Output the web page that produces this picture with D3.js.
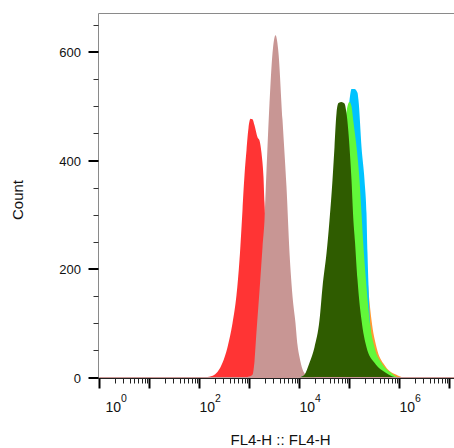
<!DOCTYPE html>
<html><head><meta charset="utf-8">
<script src="https://cdn.jsdelivr.net/npm/d3@7"></script>
<style>html,body{margin:0;padding:0;background:#fff;}svg{display:block;}</style>
</head><body>
<svg id="c" width="454" height="448"></svg>
<script>
// ---- data (x given as log10 of FL4-H intensity, y as count) ----
const redLog   = [0, 2.0, 2.16, 2.30, 2.46, 2.56, 2.66, 2.74, 2.80, 2.86, 2.90, 2.94, 2.98, 3.02, 3.06, 3.10, 3.16, 3.20, 3.24, 3.28, 3.30, 3.36, 3.44, 3.52, 3.64, 3.80, 4.0];
const redCount = [0, 0, 1, 5, 27, 56, 100, 152, 217, 309, 373, 419, 460, 477, 476, 465, 443, 437, 414, 369, 322, 217, 106, 41, 10, 1, 0];

const brownLog   = [0, 2.9, 2.96, 3.06, 3.10, 3.14, 3.20, 3.26, 3.30, 3.34, 3.40, 3.46, 3.52, 3.58, 3.66, 3.74, 3.80, 3.86, 3.92, 3.96, 4.00, 4.06, 4.12, 4.18, 4.3, 7.2];
const brownCount = [0, 0, 1, 5, 30, 85, 160, 240, 290, 382, 506, 598, 631, 598, 475, 351, 230, 150, 100, 60, 38, 15, 5, 1, 0, 0];

const orangeLog   = [4.0, 4.3, 4.5, 4.7, 4.9, 5.0, 5.08, 5.16, 5.24, 5.30, 5.36, 5.40, 5.44, 5.54, 5.70, 5.80, 5.94, 6.04, 6.15];
const orangeCount = [0, 10, 50, 180, 380, 470, 500, 460, 380, 290, 185, 140, 106, 56, 23, 12, 5, 1, 0];

const cyanLog   = [4.0, 4.3, 4.6, 4.8, 4.9, 5.0, 5.04, 5.10, 5.16, 5.18, 5.24, 5.30, 5.34, 5.36, 5.38, 5.40, 5.44, 5.50, 5.60, 5.75, 5.9];
const cyanCount = [0, 15, 120, 300, 420, 511, 532, 532, 525, 511, 425, 364, 303, 229, 170, 120, 70, 35, 12, 3, 0];

const limeLog   = [4.0, 4.2, 4.4, 4.6, 4.7, 4.8, 4.9, 4.96, 5.00, 5.04, 5.08, 5.14, 5.20, 5.24, 5.28, 5.34, 5.40, 5.50, 5.64, 5.84, 5.96, 6.1];
const limeCount = [0, 10, 50, 150, 250, 360, 460, 500, 508, 500, 470, 425, 364, 303, 240, 167, 106, 56, 27, 8, 1, 0];

const dkgreenLog   = [4.0, 4.10, 4.20, 4.30, 4.40, 4.46, 4.54, 4.60, 4.66, 4.70, 4.74, 4.78, 4.84, 4.90, 4.94, 5.00, 5.04, 5.07, 5.11, 5.16, 5.24, 5.34, 5.50, 5.74, 5.90, 6.0];
const dkgreenCount = [0, 5, 27, 56, 106, 167, 229, 290, 364, 425, 487, 506, 508, 505, 487, 425, 364, 303, 250, 180, 106, 56, 27, 8, 1, 0];

const yMajorTicks = [0, 200, 400, 600];
const decadeExps = [0, 1, 2, 3, 4, 5, 6, 7];
const decadeLabelExps = [0, 2, 4, 6];
const xTitle = "FL4-H :: FL4-H";
const yTitle = "Count";

// ---- drawing ----
const svg = d3.select("#c");
const FONT = "'Liberation Sans', Arial, Helvetica, sans-serif";
const x = d3.scaleLog().domain([1, Math.pow(10, 7.2)]).range([99.5, 459.5]);
const y = d3.scaleLinear().domain([0, 672]).range([377.5, 13]);

const series = [
  {log: redLog, cnt: redCount, color: "#ff3434"},
  {log: brownLog, cnt: brownCount, color: "#c89694"},
  {log: orangeLog, cnt: orangeCount, color: "#ff9a33"},
  {log: cyanLog, cnt: cyanCount, color: "#00c3ff"},
  {log: limeLog, cnt: limeCount, color: "#62f83a"},
  {log: dkgreenLog, cnt: dkgreenCount, color: "#2f5c00"}
];

const area = d3.area()
  .x(d => x(Math.pow(10, d[0])))
  .y0(y(0)).y1(d => y(d[1]))
  .curve(d3.curveMonotoneX);
const line = d3.line()
  .x(d => x(Math.pow(10, d[0])))
  .y(d => y(d[1]))
  .curve(d3.curveMonotoneX);

const gPlot = svg.append("g");
series.forEach(s => {
  const pts = s.log.map((l, i) => [l, s.cnt[i]]);
  gPlot.append("path").attr("d", area(pts)).attr("fill", s.color).attr("stroke", "none");
});
// brown baseline
{
  const pts = brownLog.map((l, i) => [l, brownCount[i]]);
  gPlot.append("path").attr("d", line([pts[0], pts[1]]) ).attr("fill", "none").attr("stroke", "#c89694").attr("stroke-width", 1.2);
  gPlot.append("path").attr("d", line([pts[pts.length-2], pts[pts.length-1]]) ).attr("fill", "none").attr("stroke", "#c89694").attr("stroke-width", 1.2);
  gPlot.append("path").attr("d", line([[redLog[0],0],[brownLog[brownLog.length-1],0]])).attr("fill","none").attr("stroke","#c89694").attr("stroke-width",1).attr("opacity",0.8);
}

// frame: left axis line and top border
const xL = 98.5, yTop = 13.5;
svg.append("line").attr("x1", xL).attr("x2", xL).attr("y1", yTop).attr("y2", 379).attr("stroke", "#8a8a8a").attr("stroke-width", 1);
svg.append("line").attr("x1", xL).attr("x2", 454).attr("y1", yTop).attr("y2", yTop).attr("stroke", "#8a8a8a").attr("stroke-width", 1);

// y ticks
const yMinor = d3.range(50, 672, 50).filter(v => v % 200 !== 0);
yMinor.forEach(v => {
  svg.append("line").attr("x1", xL - 5).attr("x2", xL).attr("y1", Math.round(y(v)) + 0.5).attr("y2", Math.round(y(v)) + 0.5)
    .attr("stroke", "#333").attr("stroke-width", 1);
});
yMajorTicks.forEach(v => {
  const yy = Math.round(y(v));
  svg.append("line").attr("x1", xL - 10).attr("x2", xL).attr("y1", yy).attr("y2", yy)
    .attr("stroke", "#000").attr("stroke-width", 2);
  svg.append("text").attr("x", 81).attr("y", yy + 4.5).attr("text-anchor", "end")
    .attr("font-family", FONT).attr("font-size", 13).attr("fill", "#111").text(v);
});

// x axis
const yAx = 378.5;
svg.append("line").attr("x1", xL).attr("x2", 454).attr("y1", yAx).attr("y2", yAx).attr("stroke", "#222").attr("stroke-width", 1);
decadeExps.forEach(e => {
  const xx = x(Math.pow(10, e));
  svg.append("line").attr("x1", xx).attr("x2", xx).attr("y1", yAx).attr("y2", yAx + 10)
    .attr("stroke", "#000").attr("stroke-width", 2);
  for (let m = 2; m <= 9; m++) {
    const v = m * Math.pow(10, e);
    if (v > x.domain()[1]) break;
    const xm = Math.round(x(v)) + 0.5;
    svg.append("line").attr("x1", xm).attr("x2", xm).attr("y1", yAx).attr("y2", yAx + 5)
      .attr("stroke", "#222").attr("stroke-width", 1);
  }
});
decadeLabelExps.forEach((e, i) => {
  const xx = x(Math.pow(10, e)) + (i === 0 ? 6 : 0);
  const t = svg.append("text").attr("x", xx).attr("y", 411.5)
    .attr("font-family", FONT).attr("font-size", 14).attr("fill", "#111");
  t.append("tspan").text("10");
  t.append("tspan").attr("dy", -9.5).attr("font-size", 10.5).text(e);
});

// titles
svg.append("text").attr("x", 280.5).attr("y", 445).attr("text-anchor", "middle")
  .attr("font-family", FONT).attr("font-size", 15).attr("fill", "#111").text(xTitle);
svg.append("text").attr("transform", "translate(23,200) rotate(-90)").attr("text-anchor", "middle")
  .attr("font-family", FONT).attr("font-size", 15).attr("fill", "#111").text(yTitle);
</script>
</body></html>
